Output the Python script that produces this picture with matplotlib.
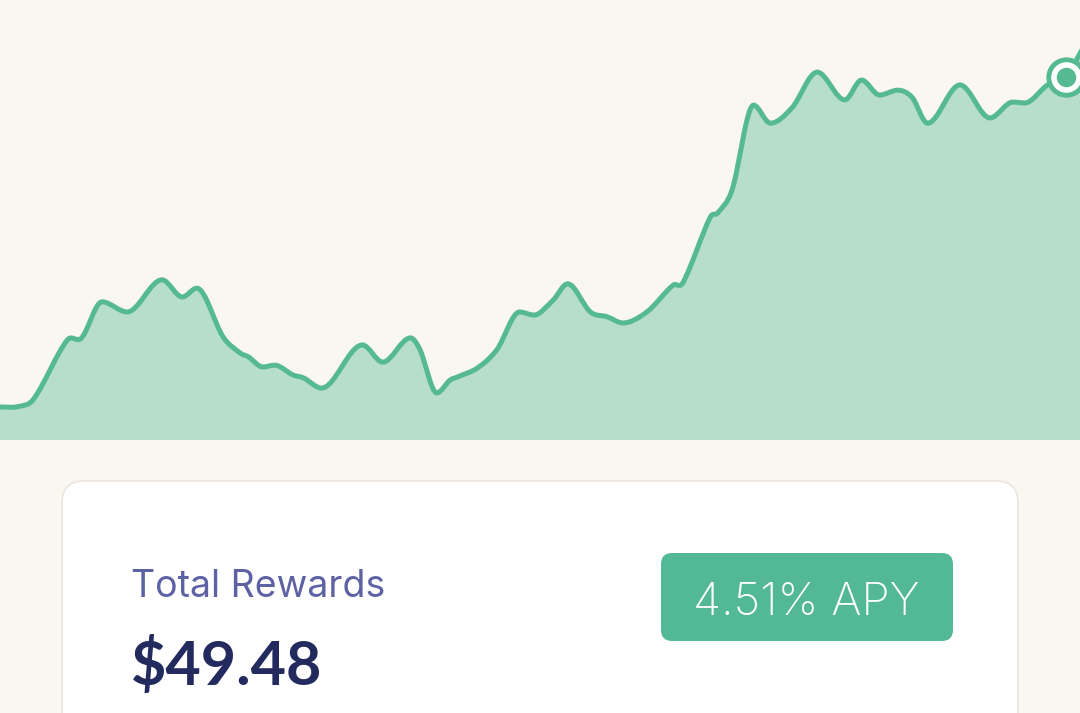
import numpy as np
import matplotlib.pyplot as plt
from matplotlib.patches import FancyBboxPatch, PathPatch
from matplotlib.path import Path

# balance history (day, value) - value scaled 0..100 of chart height
days = [0, 1.5, 2.8, 5.6, 6.8, 8.5, 10.6, 13.5, 15.2, 16.4, 18.6,
        20.0, 20.7, 21.9, 22.9, 24.4, 25.3, 26.8, 30.2, 31.9, 34.2, 35.0,
        36.4, 37.5, 38.1, 39.8, 41.4, 43.3, 44.5, 46.1, 47.3, 49.2,
        50.6, 51.9, 53.9, 56.1, 56.9, 59.2, 59.8, 61.0, 62.8, 64.2,
        66.0, 68.1, 70.4, 71.8, 73.3, 74.8, 76.0, 77.3, 80.0, 82.5, 84.4,
        85.4, 87.3, 88.8, 90.4]
values = [7.5, 7.6, 9.3, 22.7, 23.2, 31.4, 29.1, 36.4, 32.5, 34.5, 23.4,
          19.8, 18.9, 16.6, 17.0, 14.8, 14.1, 11.8, 21.6, 17.7, 23.2, 20.5,
          10.7, 13.6, 14.3, 16.4, 20.5, 29.1, 28.4, 31.8, 35.5, 29.1,
          28.0, 26.6, 29.1, 35.2, 35.7, 50.7, 51.6, 56.8, 76.1, 72.0,
          75.5, 83.6, 77.3, 81.8, 78.4, 79.5, 77.9, 72.0, 80.7, 73.2, 76.8,
          76.6, 80.7, 82.5, 89.8]
current_day = 88.8
current_value = 82.5

total_label = "Total Rewards"
total_value = "$49.48"
apy_label = "4.51% APY"

bg = "#FAF6F0"
green = "#55B992"
fill_green = "#B7DECA"


def smooth_path(x, y):
    # cubic bezier segments through the points, flat tangents at local peaks
    x = np.asarray(x, float)
    y = np.asarray(y, float)
    n = len(x)
    m = np.zeros(n)
    for i in range(n):
        if i == 0:
            m[i] = (y[1] - y[0]) / (x[1] - x[0])
        elif i == n - 1:
            m[i] = (y[-1] - y[-2]) / (x[-1] - x[-2])
        else:
            d0 = (y[i] - y[i - 1]) / (x[i] - x[i - 1])
            d1 = (y[i + 1] - y[i]) / (x[i + 1] - x[i])
            m[i] = 0 if d0 * d1 <= 0 else (y[i + 1] - y[i - 1]) / (x[i + 1] - x[i - 1])
    verts = [(x[0], y[0])]
    codes = [Path.MOVETO]
    for i in range(n - 1):
        dx = (x[i + 1] - x[i]) / 3
        verts += [(x[i] + dx, y[i] + m[i] * dx),
                  (x[i + 1] - dx, y[i + 1] - m[i + 1] * dx),
                  (x[i + 1], y[i + 1])]
        codes += [Path.CURVE4] * 3
    return verts, codes


W, H = 1080, 713
fig = plt.figure(figsize=(W / 100, H / 100), dpi=100)
fig.patch.set_facecolor(bg)

# chart area occupies top 440 px
ax = fig.add_axes([0, 1 - 440 / H, 1, 440 / H])
ax.set_facecolor(bg)
verts, codes = smooth_path(days, values)
fill_verts = verts + [(days[-1], 0), (days[0], 0), verts[0]]
fill_codes = codes + [Path.LINETO, Path.LINETO, Path.CLOSEPOLY]
ax.add_patch(PathPatch(Path(fill_verts, fill_codes), facecolor=fill_green,
                       edgecolor="none"))
ax.add_patch(PathPatch(Path(verts, codes), facecolor="none", edgecolor=green,
                       lw=3.6, joinstyle="round", capstyle="round"))
ax.plot([current_day], [current_value], "o", ms=28, color=green, zorder=5)
ax.plot([current_day], [current_value], "o", ms=21, color="white", zorder=6)
ax.plot([current_day], [current_value], "o", ms=13, color=green, zorder=7)
ax.set_xlim(0, 90)
ax.set_ylim(0, 100)
ax.axis("off")

# overlay in pixel coordinates for the card
ov = fig.add_axes([0, 0, 1, 1])
ov.set_xlim(0, W)
ov.set_ylim(H, 0)
ov.axis("off")
ov.patch.set_alpha(0)

card = FancyBboxPatch((62, 481), 956, 300, boxstyle="round,pad=0,rounding_size=22",
                      facecolor="white", edgecolor="#ECE6DE", lw=1.2)
ov.add_patch(card)

badge = FancyBboxPatch((661, 553), 292, 88, boxstyle="round,pad=0,rounding_size=11",
                       facecolor="#53B895", edgecolor="none")
ov.add_patch(badge)

ov.text(131, 597, total_label, fontsize=27, color="#5C62A3",
        family="Inter", va="baseline", ha="left")
ov.text(131, 685, total_value, fontsize=44, color="#232A5E",
        family="Lato", fontweight="bold", va="baseline", ha="left")
ov.text(806, 615, apy_label, fontsize=33, color="white",
        family="Inter", fontweight="light", va="baseline", ha="center")

fig.savefig("out.png", dpi=100, facecolor=bg)
